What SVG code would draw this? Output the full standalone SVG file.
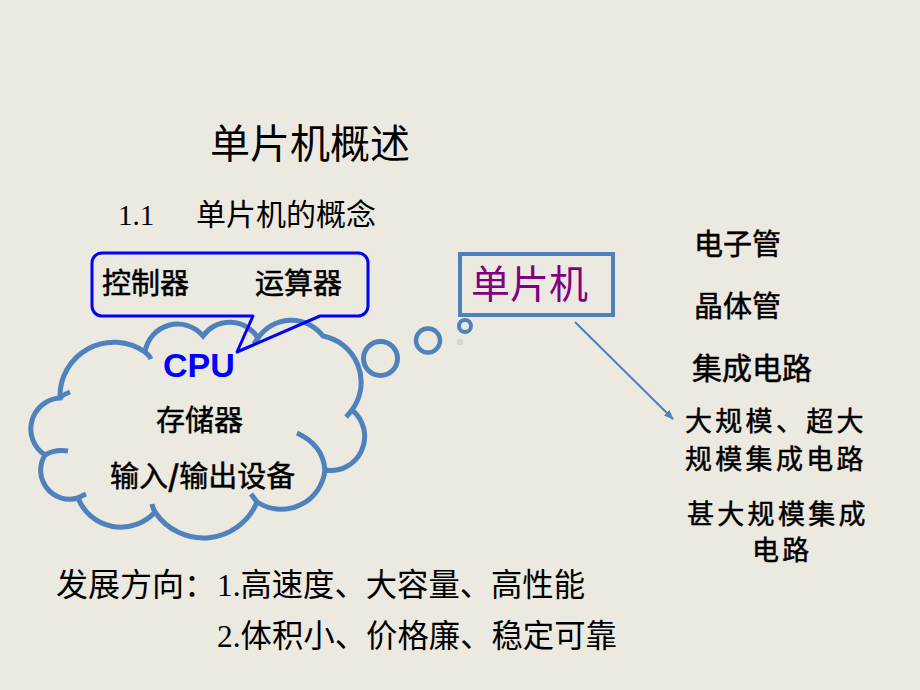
<svg xmlns="http://www.w3.org/2000/svg" width="920" height="690" viewBox="0 0 920 690">
<defs>
<style>
.cn{font-family:"Noto Sans CJK SC","Noto Sans",sans-serif;fill:#000;stroke:#000;stroke-width:0.5;}
.ct{font-family:"Noto Sans CJK SC","Noto Sans",sans-serif;fill:#000;}
.sf{font-family:"Liberation Serif","Noto Sans CJK SC",serif;fill:#000;}
.cloud{fill:none;stroke:#4F81BD;stroke-width:5;stroke-linecap:butt;}
.blue{fill:none;stroke:#4F81BD;}
</style>
<marker id="ah" markerWidth="10" markerHeight="8" refX="9" refY="4" orient="auto" markerUnits="userSpaceOnUse">
<path d="M0,0 L10,4 L0,8 Z" fill="#4F81BD"/>
</marker>
</defs>
<rect x="0" y="0" width="920" height="690" fill="#ECE9E0"/>

<g id="title">
<text class="ct" x="210" y="158" font-size="40">单片机概述</text>
<text class="sf" x="118" y="225" font-size="29">1.1</text>
<text class="ct" x="196" y="225" font-size="30">单片机的概念</text>
</g>

<g id="cloud">
<path class="cloud" d="M60,398 A54,54 0 0 1 145,352 A33,33 0 0 1 203,336 A33,33 0 0 1 258,338 A40,40 0 0 1 323,336 A47,47 0 0 1 352,410 A34,34 0 0 1 325,470 A44,44 0 0 1 257,502 A58,58 0 0 1 155,512 A46,46 0 0 1 78,498 A29,29 0 0 1 45,455 A31,31 0 0 1 60,398 Z"/>
<path class="cloud" d="M45,455 Q55,449 68,451 M145,352 Q149,355 151,359 M258,338 Q256,341 254,344 M325,470 Q323,445 297,433 M352,410 Q349,414 346,417 M257,502 Q254,498 251,494 M155,512 Q153,509 152,504 M78,498 Q81,496 86,494 M60,398 Q64,394 70,392"/>
<text x="163" y="377" font-family="Liberation Sans, Arial, sans-serif" font-weight="bold" font-size="34" fill="#0000FF">CPU</text>
<text class="cn" x="156" y="431" font-size="29">存储器</text>
<text class="cn" x="110" y="487" font-size="29">输入<tspan font-weight="bold">/</tspan>输出设备</text>
</g>

<g id="callout">
<path d="M102,253 H358 A10,10 0 0 1 368,263 V306 A10,10 0 0 1 358,316 H320 L237,352 L253,316 H102 A10,10 0 0 1 92,306 V263 A10,10 0 0 1 102,253 Z" fill="none" stroke="#0000FF" stroke-width="3" stroke-linejoin="round"/>
<text class="cn" x="102" y="294" font-size="29">控制器</text>
<text class="cn" x="255" y="294" font-size="29">运算器</text>
</g>

<g id="bubbles">
<circle class="blue" cx="380.5" cy="358.5" r="17" stroke-width="5"/>
<circle class="blue" cx="428" cy="340.5" r="12" stroke-width="4.5"/>
<circle class="blue" cx="465" cy="326" r="6" stroke-width="4"/>
<rect x="457" y="339" width="6" height="6" fill="#D6D5CE"/>
</g>

<g id="mcu">
<rect x="460" y="254" width="153" height="61" fill="none" stroke="#4F81BD" stroke-width="4"/>
<text class="ct" x="471" y="298" font-size="39" style="fill:#800080">单片机</text>
</g>

<g id="connectors">
<line x1="575" y1="322" x2="673" y2="419" stroke="#4F81BD" stroke-width="2" marker-end="url(#ah)"/>
</g>

<g id="stages">
<text class="cn" x="694" y="255" font-size="29">电子管</text>
<text class="cn" x="694" y="317" font-size="29">晶体管</text>
<text class="cn" x="692" y="379" font-size="30">集成电路</text>
<text class="cn" x="685" y="431" font-size="27" letter-spacing="3.3">大规模、超大</text>
<text class="cn" x="685" y="469" font-size="27" letter-spacing="3.3">规模集成电路</text>
<text class="cn" x="687" y="524" font-size="27" letter-spacing="3.3">甚大规模集成</text>
<text class="cn" x="752" y="560" font-size="27" letter-spacing="3.3">电路</text>
</g>

<g id="trend">
<text class="ct" x="56" y="596" font-size="32">发展方向：</text>
<text class="sf" x="217" y="596" font-size="32" textLength="368" lengthAdjust="spacingAndGlyphs">1.高速度、大容量、高性能</text>
<text class="sf" x="217" y="647" font-size="32" textLength="400" lengthAdjust="spacingAndGlyphs">2.体积小、价格廉、稳定可靠</text>
</g>
</svg>
